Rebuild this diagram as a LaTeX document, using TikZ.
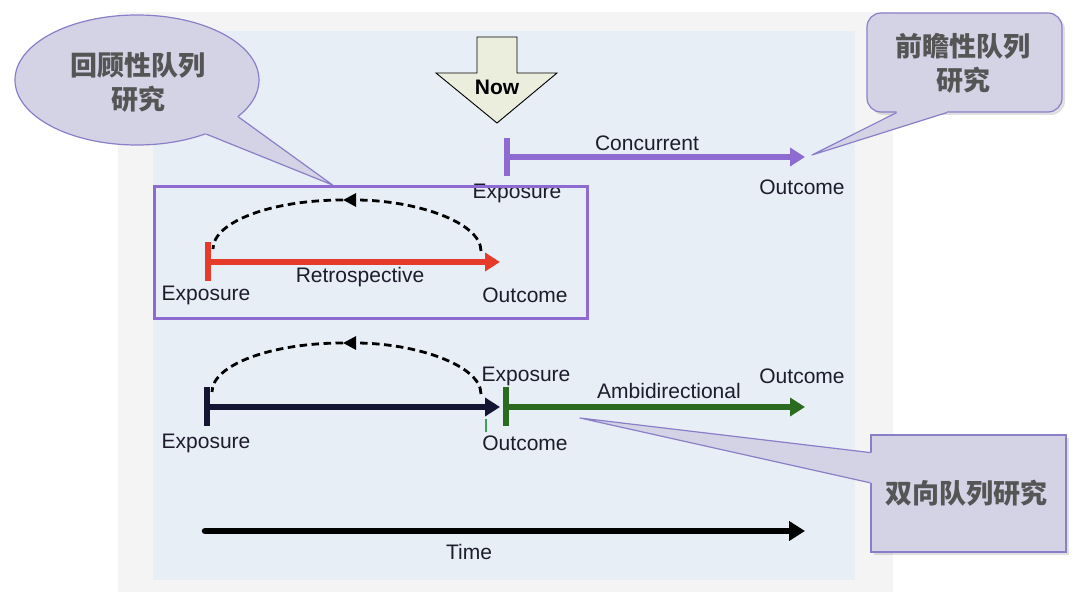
\documentclass[tikz,border=0pt]{standalone}
\usepackage{fontspec}
\setmainfont{Liberation Sans}
\newfontfamily\cjk{Noto Sans CJK SC}
\usetikzlibrary{arrows.meta,shapes.geometric,calc}
\definecolor{bggray}{HTML}{F4F4F4}
\definecolor{bgblue}{HTML}{E8EEF6}
\definecolor{cfill}{HTML}{D4D3E6}
\definecolor{cline}{HTML}{8A7EC8}
\definecolor{ctext}{HTML}{555555}
\definecolor{purp}{HTML}{8E6BD0}
\definecolor{redl}{HTML}{E63B2A}
\definecolor{navy}{HTML}{141433}
\definecolor{greenl}{HTML}{2B6B1F}
\definecolor{tickg}{HTML}{3CA05A}
\definecolor{nowfill}{HTML}{EBEEDD}
\definecolor{lbl}{HTML}{1C1C2C}
\begin{document}
\begin{tikzpicture}[x=1pt,y=-1pt,
  lab/.style={font=\fontsize{21}{25}\selectfont, text=lbl, inner sep=0pt},
  ctxt/.style={font=\cjk\bfseries\fontsize{27}{34}\selectfont, text=ctext, align=center, inner sep=0pt},
  tline/.style={line width=6.5pt, -{Triangle[length=15pt,width=18pt]}},
  tbar/.style={line width=6.5pt},
  back/.style={line width=2.8pt, dash pattern=on 7.5pt off 4.5pt},
  backtip/.style={-{Triangle[length=13pt,width=13pt]}},
  cbox/.style={draw=cline, fill=cfill, line width=1.2pt, inner sep=0pt},
  shadow/.style={fill=black, opacity=0.12}]
\useasboundingbox (0,0) rectangle (1080,601);
\fill[white] (0,0) rectangle (1080,601);
\fill[bggray] (118,12) rectangle (893,592);
\fill[bgblue] (153,31) rectangle (855,580);

% Now arrow
\filldraw[fill=nowfill, draw=black, line width=0.9pt]
  (477,37) -- (517,37) -- (517,73) -- (557,73) -- (497,123) -- (436,73) -- (477,73) -- cycle;
\node[font=\bfseries\fontsize{21}{25}\selectfont, text=black, inner sep=0pt] (now) at (497,87) {Now};

% Concurrent
\coordinate (cbt) at (507,138);
\coordinate (cbb) at (507,176);
\coordinate (cs) at (507,157);
\coordinate (ce) at (805,157);
\draw[tbar, purp] (cbt) -- (cbb);
\draw[tline, purp] (cs) -- (ce);
\node[lab] (lconc) at (647,143) {Concurrent};
\node[lab] (lcexp) at (517,193) {Exposure};
\node[lab] (lcout) at (802,187) {Outcome};

% Retrospective
\coordinate (rbt) at (208,242);
\coordinate (rbb) at (208,281);
\coordinate (rs) at (208,262);
\coordinate (re) at (500,262);
\coordinate (rA) at (481,251);
\coordinate (rP) at (343,200);
\coordinate (rB) at (213,249);
\draw[back, backtip] (rA) .. controls (481,222) and (415,200) .. (rP);
\draw[back] (rP) .. controls (271,200) and (213,222) .. (rB);
\draw[tbar, redl] (rbt) -- (rbb);
\draw[tline, redl] (rs) -- (re);
\node[lab] (lrexp) at (206,295) {Exposure};
\node[lab] (lretro) at (360,277) {Retrospective};
\node[lab] (lrout) at (525,295) {Outcome};

% box around retrospective
\node[draw=purp, line width=3pt, minimum width=433pt, minimum height=132pt, inner sep=0pt] (rbox) at (370.5,252.5) {};

% Ambidirectional
\coordinate (abt) at (207,387);
\coordinate (abb) at (207,426);
\coordinate (as) at (207,407);
\coordinate (ae) at (500,407);
\coordinate (gbt) at (506,387);
\coordinate (gbb) at (506,426);
\coordinate (gs) at (506,407);
\coordinate (ge) at (805,407);
\coordinate (tkt) at (486,419);
\coordinate (tkb) at (486,432);
\coordinate (aA) at (481,394);
\coordinate (aP) at (343,343);
\coordinate (aB) at (212,392);
\draw[back, backtip] (aA) .. controls (481,365) and (415,343) .. (aP);
\draw[back] (aP) .. controls (271,343) and (212,365) .. (aB);
\draw[tbar, navy] (abt) -- (abb);
\draw[tline, navy] (as) -- (ae);
\draw[tbar, greenl] (gbt) -- (gbb);
\draw[tline, greenl] (gs) -- (ge);
\draw[line width=2.6pt, tickg] (tkt) -- (tkb);
\node[lab] (laexp) at (206,443) {Exposure};
\node[lab] (laout) at (525,443) {Outcome};
\node[lab] (lgexp) at (526,376) {Exposure};
\node[lab] (lambi) at (669,391) {Ambidirectional};
\node[lab] (lgout) at (802,376) {Outcome};

% Time
\coordinate (ts) at (205,531);
\coordinate (te) at (805,531);
\draw[line width=6.5pt, line cap=round, -{Triangle[length=16pt,width=19pt]}] (ts) -- (te);
\node[lab] (ltime) at (469,552) {Time};

% Left callout (ellipse)
\node[cbox, ellipse, minimum width=244pt, minimum height=130pt] (ell) at (137,80) {};
\coordinate (etip) at ($(rbox.north west)!0.413!(rbox.north east)$);
\coordinate (eb1) at (ell.-20);
\coordinate (eb2) at (ell.-38);
\fill[cfill] (eb1) -- (etip) -- (eb2) -- ($(eb2)!4pt!(ell.center)$) -- ($(eb1)!4pt!(ell.center)$) -- cycle;
\draw[cline, line width=1.2pt, line join=round] (eb1) -- (etip) -- (eb2);
\node[ctxt] (t1) at (138,82) {回顾性队列\\研究};

% Right top callout
\fill[shadow, rounded corners=14pt] (870,16) rectangle (1065,115);
\node[cbox, rounded corners=14pt, minimum width=195pt, minimum height=99pt] (pc) at (964.5,62.5) {};
\coordinate (ptip) at (812,155);
\coordinate (pb1) at ($(pc.south west)!0.154!(pc.south east)$);
\coordinate (pb2) at ($(pc.south west)!0.41!(pc.south east)$);
\fill[cfill] (pb1) -- (ptip) -- (pb2) -- ($(pb2)+(0,-4)$) -- ($(pb1)+(0,-4)$) -- cycle;
\draw[cline, line width=1.2pt, line join=round] (pb1) -- (ptip) -- (pb2);
\node[ctxt] (t2) at (963,63) {前瞻性队列\\研究};

% Bottom right callout
\fill[shadow] (874,438) rectangle (1069,555);
\node[cbox, minimum width=195pt, minimum height=117pt] (bc) at (968.5,493.5) {};
\coordinate (btip) at (580,418);
\coordinate (bb1) at ($(bc.north west)!0.154!(bc.south west)$);
\coordinate (bb2) at ($(bc.north west)!0.41!(bc.south west)$);
\fill[cfill] (bb1) -- (btip) -- (bb2) -- ($(bb2)+(4,0)$) -- ($(bb1)+(4,0)$) -- cycle;
\draw[cline, line width=1.2pt, line join=round] (bb1) -- (btip) -- (bb2);
\node[ctxt] (t3) at (966,493) {双向队列研究};
\end{tikzpicture}
\end{document}
